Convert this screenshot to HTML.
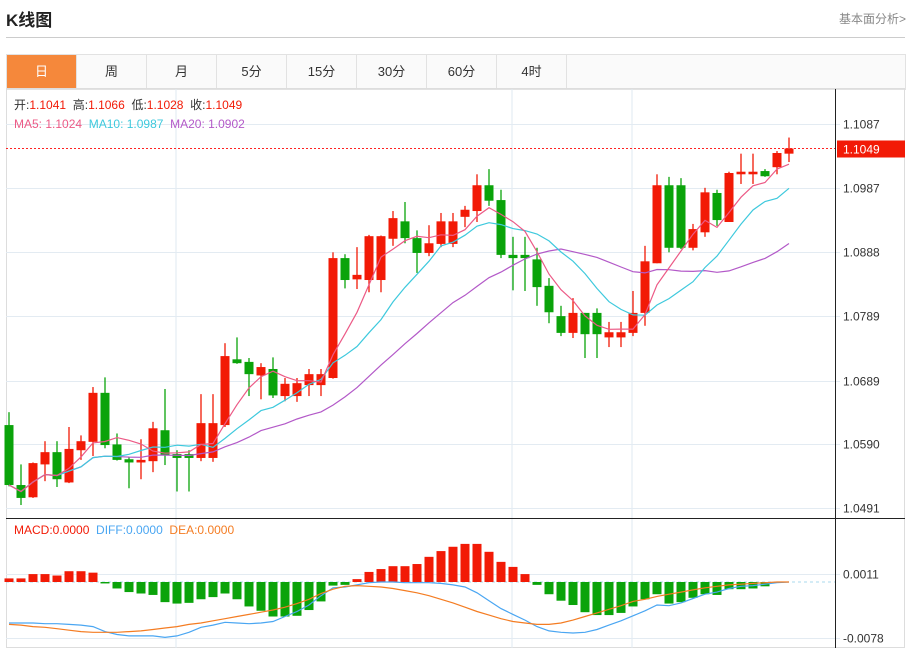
<!DOCTYPE html>
<html><head><meta charset="utf-8">
<style>
body{margin:0;background:#fff;width:912px;height:648px;overflow:hidden;font-family:"Liberation Sans","Noto Sans CJK SC",sans-serif;}
#title{position:absolute;left:6px;top:6px;font-size:17px;font-weight:bold;color:#222;}
#more{position:absolute;right:6px;top:10px;font-size:12px;color:#888;}
#hr{position:absolute;left:6px;top:37px;width:899px;height:1px;background:#ccc;}
#tabs{position:absolute;left:6px;top:54px;width:898px;height:34px;border:1px solid #e2e2e2;background:#fafafa;}
.tab{position:absolute;top:0;width:69px;height:34px;line-height:34px;text-align:center;font-size:13px;color:#333;border-right:1px solid #e2e2e2;}
.tab.on{background:#f5883b;color:#fff;}
svg{position:absolute;left:0;top:0;}
</style></head><body>
<div id="title">K线图</div>
<div id="more">基本面分析&gt;</div>
<div id="hr"></div>
<div id="tabs">
<div class="tab on" style="left:0">日</div>
<div class="tab" style="left:70px">周</div>
<div class="tab" style="left:140px">月</div>
<div class="tab" style="left:210px">5分</div>
<div class="tab" style="left:280px">15分</div>
<div class="tab" style="left:350px">30分</div>
<div class="tab" style="left:420px">60分</div>
<div class="tab" style="left:490px">4时</div>
</div>
<svg id="chart" width="912" height="648"></svg>
<script>
const opens=[1.0620,1.0527,1.0508,1.0559,1.0578,1.0531,1.0581,1.0594,1.0670,1.0590,1.0567,1.0562,1.0564,1.0612,1.0575,1.0575,1.0569,1.0569,1.0620,1.0722,1.0718,1.0697,1.0707,1.0665,1.0665,1.0682,1.0682,1.0693,1.0879,1.0846,1.0845,1.0845,1.0909,1.0936,1.0910,1.0887,1.0901,1.0901,1.0943,1.0952,1.0992,1.0969,1.0884,1.0884,1.0877,1.0836,1.0789,1.0763,1.0794,1.0794,1.0756,1.0756,1.0763,1.0794,1.0871,1.0992,1.0992,1.0895,1.0919,1.0980,1.0935,1.1009,1.1009,1.1014,1.1020,1.1041];
const closes=[1.0527,1.0507,1.0561,1.0578,1.0536,1.0583,1.0595,1.0670,1.0589,1.0566,1.0562,1.0566,1.0615,1.0573,1.0569,1.0569,1.0623,1.0623,1.0727,1.0716,1.0699,1.0710,1.0666,1.0684,1.0685,1.0699,1.0699,1.0879,1.0845,1.0853,1.0913,1.0913,1.0941,1.0910,1.0887,1.0902,1.0936,1.0936,1.0954,1.0992,1.0968,1.0884,1.0879,1.0879,1.0834,1.0795,1.0763,1.0794,1.0761,1.0761,1.0764,1.0764,1.0794,1.0874,1.0992,1.0895,1.0895,1.0924,1.0981,1.0938,1.1011,1.1013,1.1013,1.1006,1.1042,1.1049];
const highs=[1.0640,1.0559,1.0562,1.0595,1.0595,1.0617,1.0604,1.0679,1.0694,1.0607,1.0570,1.0598,1.0625,1.0676,1.0581,1.0581,1.0668,1.0668,1.0747,1.0756,1.0724,1.0716,1.0725,1.0693,1.0693,1.0707,1.0707,1.0888,1.0885,1.0896,1.0915,1.0914,1.0952,1.0966,1.0922,1.0930,1.0949,1.0949,1.0960,1.1009,1.1017,1.0985,1.0912,1.0912,1.0895,1.0848,1.0805,1.0817,1.0794,1.0801,1.0780,1.0780,1.0828,1.0898,1.1009,1.1005,1.1003,1.0932,1.0988,1.0985,1.1013,1.1041,1.1041,1.1017,1.1045,1.1066];
const lows=[1.0525,1.0496,1.0507,1.0533,1.0524,1.0530,1.0566,1.0572,1.0584,1.0565,1.0522,1.0536,1.0547,1.0558,1.0517,1.0517,1.0564,1.0563,1.0617,1.0715,1.0665,1.0660,1.0662,1.0657,1.0656,1.0665,1.0665,1.0692,1.0832,1.0831,1.0826,1.0826,1.0898,1.0902,1.0856,1.0882,1.0896,1.0896,1.0927,1.0935,1.0960,1.0879,1.0829,1.0828,1.0805,1.0778,1.0758,1.0755,1.0724,1.0724,1.0741,1.0741,1.0758,1.0774,1.0871,1.0888,1.0893,1.0891,1.0912,1.0929,1.0935,1.0994,1.0994,1.1005,1.1009,1.1028];
const macdHist=[0.0005,0.0005,0.0011,0.0011,0.0009,0.0015,0.0015,0.0013,
-0.0002,-0.0009,-0.0014,-0.0016,-0.0018,-0.0028,-0.0030,-0.0029,-0.0024,-0.0021,-0.0016,-0.0024,-0.0034,-0.0040,-0.0048,-0.0048,-0.0047,-0.0039,-0.0027,-0.0005,-0.0004,
0.0004,0.0014,0.0018,0.0022,0.0022,0.0025,0.0035,0.0043,0.0049,0.0053,0.0053,0.0042,0.0028,0.0021,0.0011,-0.0004,-0.0017,-0.0026,-0.0032,
-0.0042,-0.0046,
-0.0046,-0.0043,-0.0034,-0.0024,-0.0017,-0.0030,-0.0028,-0.0022,-0.0017,-0.0018,-0.0010,-0.0010,-0.0009,-0.0006,0,0];
const diffVals=[-0.0057,-0.0057,-0.0057,-0.0058,-0.0058,-0.0059,-0.0060,
-0.0062,-0.0069,-0.0073,-0.0075,-0.0075,-0.0075,-0.0077,-0.0075,-0.0070,-0.0063,-0.0060,-0.0056,-0.0057,-0.0058,-0.0057,-0.0055,-0.0048,-0.0041,-0.0032,-0.0019,-0.0008,
-0.0007,
-0.0004,-0.0001,0,0,-0.0001,-0.0001,-0.0001,-0.0002,-0.0004,-0.0007,-0.0015,-0.0026,-0.0037,-0.0045,-0.0053,-0.0062,
-0.0068,-0.0070,-0.0071,-0.0070,-0.0066,-0.0060,-0.0054,-0.0047,-0.0040,-0.0032,-0.0033,-0.0029,-0.0023,-0.0017,-0.0014,-0.0009,-0.0006,-0.0005,-0.0003,-0.0001,0];
const deaVals=[-0.0059,-0.0060,-0.0062,-0.0063,-0.0065,-0.0067,-0.0069,
-0.0070,-0.0070,-0.0070,-0.0069,-0.0068,-0.0066,-0.0064,-0.0062,-0.0059,-0.0057,-0.0054,-0.0051,-0.0048,-0.0045,-0.0042,-0.0039,-0.0035,-0.0030,-0.0024,-0.0016,-0.0010,-0.0006,
-0.0005,-0.0006,-0.0007,-0.0009,-0.0012,-0.0015,-0.0019,-0.0024,-0.0029,-0.0035,-0.0041,-0.0046,-0.0051,-0.0055,-0.0057,-0.0059,-0.0059,-0.0057,-0.0053,
-0.0048,-0.0043,-0.0038,-0.0033,-0.0027,-0.0024,-0.0020,-0.0017,-0.0014,-0.0011,-0.0008,-0.0006,-0.0004,-0.0003,-0.0002,-0.0001,0,0];
const priceTicks=[1.1087,1.0987,1.0888,1.0789,1.0689,1.0590,1.0491];
const macdTicks=[0.0011,-0.0078];

const NS='http://www.w3.org/2000/svg';
const svg=document.getElementById('chart');
function mk(tag,attrs,parent){const e=document.createElementNS(NS,tag);for(const k in attrs)e.setAttribute(k,attrs[k]);(parent||svg).appendChild(e);return e;}
const xC=i=>9+i*12;
const yP=p=>124+(1.1087-p)*6447;
const yM=v=>582-v*7190;
const RED='#f21a06',GREEN='#0aa30a';

let fr=mk('rect',{x:6.5,y:88.5,width:898,height:559,fill:'none',stroke:'#ddd'});


[176,512,632].forEach(x=>{let l=mk('line',{x1:x,y1:89,x2:x,y2:648,stroke:'#dfe9f1'});

});
priceTicks.forEach(t=>{const y=Math.round(yP(t))+0.5;
let l=mk('line',{x1:6,y1:y,x2:840,y2:y,stroke:'#e3ebf2'});


let tx=mk('text',{x:843,y:y+4,'font-size':12,fill:'#333'});tx.textContent=t.toFixed(4);

});
macdTicks.forEach(t=>{const y=Math.round(yM(t))+0.5;
let l=mk('line',{x1:6,y1:y,x2:840,y2:y,stroke:'#e3ebf2'});


let tx=mk('text',{x:843,y:y+4,'font-size':12,fill:'#333'});tx.textContent=t.toFixed(4);

});
let ax=mk('line',{x1:835.5,y1:89,x2:835.5,y2:648,stroke:'#222'});


let sep=mk('line',{x1:6,y1:518.5,x2:905,y2:518.5,stroke:'#222'});



function ma(n){return closes.map((c,i)=>{const s=closes.slice(Math.max(0,i-n+1),i+1);return s.reduce((a,b)=>a+b,0)/s.length;});}
closes.forEach((c,i)=>{const o=opens[i],up=c>=o,col=up?RED:GREEN,x=xC(i);
let w=mk('line',{x1:x,y1:yP(highs[i]),x2:x,y2:yP(lows[i]),stroke:col,'stroke-width':1.3});


const t=yP(Math.max(o,c)),b=yP(Math.min(o,c));
let r=mk('rect',{x:x-4.5,y:t,width:9,height:Math.max(2,b-t),fill:col});

});
[[20,'#b359c8','ma20-line'],[10,'#3ec9dd','ma10-line'],[5,'#ec5a86','ma5-line']].forEach(([n,col,name])=>{
const v=ma(n);let p=mk('polyline',{points:v.map((m,i)=>xC(i)+','+yP(m).toFixed(1)).join(' '),fill:'none',stroke:col,'stroke-width':1.2});

});
const ly=yP(closes[closes.length-1]);
let dl=mk('line',{x1:6,y1:ly,x2:835,y2:ly,stroke:'#f22','stroke-dasharray':'2,2'});


let lb=mk('rect',{x:837,y:ly-8,width:68,height:17,fill:'#f21a06'});


let lt=mk('text',{x:843,y:ly+5,'font-size':12,fill:'#fff'});lt.textContent=closes[closes.length-1].toFixed(4);



let zl=mk('line',{x1:6,y1:yM(0),x2:835,y2:yM(0),stroke:'#a8d8ee','stroke-dasharray':'3,3'});


macdHist.forEach((v,i)=>{if(v===0)return;const y0=yM(0),y1=yM(v);
let r=mk('rect',{x:xC(i)-4.5,y:Math.min(y0,y1),width:9,height:Math.max(1,Math.abs(y1-y0)),fill:v>=0?RED:GREEN});

});
let dfl=mk('polyline',{points:diffVals.map((v,i)=>xC(i)+','+yM(v).toFixed(1)).join(' '),fill:'none',stroke:'#4aa6f2','stroke-width':1.2});


let del=mk('polyline',{points:deaVals.map((v,i)=>xC(i)+','+yM(v).toFixed(1)).join(' '),fill:'none',stroke:'#f47c22','stroke-width':1.2});



function leg(x,y,parts,name){const t=mk('text',{x:x,y:y,'font-size':12});


t.style.whiteSpace='pre';
parts.forEach(([s,c])=>{const sp=mk('tspan',{fill:c},t);sp.textContent=s;});}
leg(14,109,[['开:','#333'],['1.1041  ','#f21a06'],['高:','#333'],['1.1066  ','#f21a06'],['低:','#333'],['1.1028  ','#f21a06'],['收:','#333'],['1.1049','#f21a06']],'ohlc-legend');
leg(14,128,[['MA5: 1.1024  ','#ec5a86'],['MA10: 1.0987  ','#3ec9dd'],['MA20: 1.0902','#b359c8']],'ma-legend');
leg(14,534,[['MACD:0.0000  ','#f21a06'],['DIFF:0.0000  ','#4aa6f2'],['DEA:0.0000','#f47c22']],'macd-legend');
</script>
</body></html>
